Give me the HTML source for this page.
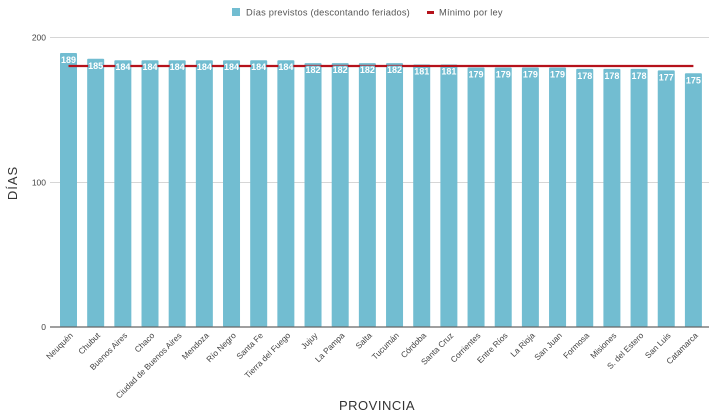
<!DOCTYPE html>
<html><head><meta charset="utf-8"><style>
html,body{margin:0;padding:0;background:#fff;}
svg{display:block;}
text{font-family:"Liberation Sans",sans-serif;}
</style></head><body>
<svg width="715" height="418" viewBox="0 0 715 418" xmlns="http://www.w3.org/2000/svg">
<!-- legend -->
<rect x="232" y="8" width="8" height="8" fill="#72bdd1"/>
<text x="246" y="15.5" font-size="9.3" fill="#555" letter-spacing="0.2">Días previstos (descontando feriados)</text>
<rect x="427" y="11" width="7" height="3" fill="#b5121b"/>
<text x="439" y="15.5" font-size="9.3" fill="#555" letter-spacing="0.2">Mínimo por ley</text>
<!-- gridlines -->
<line x1="50" y1="37.5" x2="709" y2="37.5" stroke="#d6d6d6" stroke-width="1"/>
<line x1="50" y1="182.5" x2="709" y2="182.5" stroke="#d6d6d6" stroke-width="1"/>
<!-- y tick labels -->
<g font-size="8.5" fill="#444" text-anchor="end">
<text x="46" y="40.5">200</text>
<text x="46" y="185.5">100</text>
<text x="46" y="330">0</text>
</g>
<text transform="translate(17,183) rotate(-90)" font-size="13" fill="#333" text-anchor="middle" letter-spacing="1">DÍAS</text>
<text x="377" y="410" font-size="13" fill="#333" text-anchor="middle" letter-spacing="0.5">PROVINCIA</text>
<g id="bars"></g>
<line x1="50" y1="327" x2="709" y2="327" stroke="#666" stroke-width="1.3"/>
<line x1="68.5" y1="66" x2="693.4" y2="66" stroke="#b5121b" stroke-width="2.2"/>
<g id="labels"></g>
<g id="xlabels" font-size="8.3" fill="#444" text-anchor="end"></g>
</svg>
<script>
(function(){
var names=["Neuquén","Chubut","Buenos Aires","Chaco","Ciudad de Buenos Aires","Mendoza","Río Negro","Santa Fe","Tierra del Fuego","Jujuy","La Pampa","Salta","Tucumán","Córdoba","Santa Cruz","Corrientes","Entre Ríos","La Rioja","San Juan","Formosa","Misiones","S. del Estero","San Luis","Catamarca"];
var vals=[189,185,184,184,184,184,184,184,184,182,182,182,182,181,181,179,179,179,179,178,178,178,177,175];
var ns="http://www.w3.org/2000/svg";
var bars=document.getElementById("bars"),labs=document.getElementById("labels"),xl=document.getElementById("xlabels");
for(var i=0;i<24;i++){
 var x=60+i*27.17,cx=x+8.5,ty=327-vals[i]*1.45;
 var r=document.createElementNS(ns,"rect");
 r.setAttribute("x",x);r.setAttribute("y",ty);r.setAttribute("width",17);r.setAttribute("height",327-ty);r.setAttribute("fill","#72bdd1");r.setAttribute("rx","1");
 bars.appendChild(r);
 var bg=document.createElementNS(ns,"rect");
 bg.setAttribute("x",cx-7.5);bg.setAttribute("y",ty+2.5);bg.setAttribute("width",15);bg.setAttribute("height",9);bg.setAttribute("fill","#72bdd1");
 labs.appendChild(bg);
 var t=document.createElementNS(ns,"text");
 t.setAttribute("x",cx);t.setAttribute("y",ty+10);t.setAttribute("text-anchor","middle");t.setAttribute("font-size","9");t.setAttribute("font-weight","bold");t.setAttribute("fill","#fff");
 t.textContent=vals[i];labs.appendChild(t);
 var l=document.createElementNS(ns,"text");
 l.setAttribute("transform","translate("+(cx+5)+",336) rotate(-45)");
 l.textContent=names[i];xl.appendChild(l);
}
})();
</script>
</body></html>
